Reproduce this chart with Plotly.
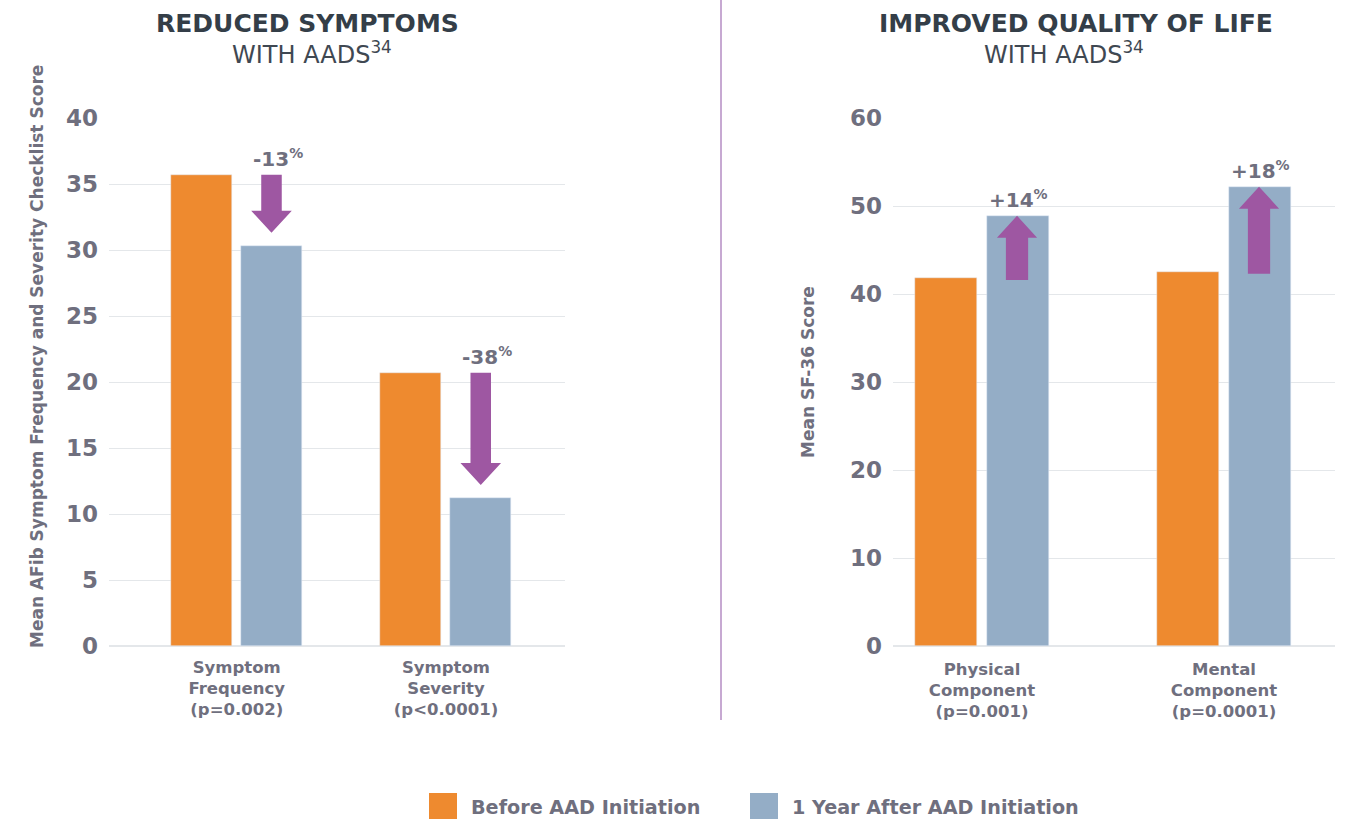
import plotly.graph_objects as go

# ---------------- data ----------------
categories_left = ["Symptom<br>Frequency<br>(p=0.002)", "Symptom<br>Severity<br>(p&lt;0.0001)"]
before_left = [35.7, 20.7]
after_left = [30.3, 11.2]
change_left = ["-13", "-38"]

categories_right = ["Physical<br>Component<br>(p=0.001)", "Mental<br>Component<br>(p=0.0001)"]
before_right = [41.8, 42.5]
after_right = [48.9, 52.2]
change_right = ["+14", "+18"]

series_names = ["Before AAD Initiation", "1 Year After AAD Initiation"]
yticks_left = [0, 5, 10, 15, 20, 25, 30, 35, 40]
yticks_right = [0, 10, 20, 30, 40, 50, 60]

# ---------------- style ----------------
W, H = 1357, 819
ORANGE = "#EE8A2F"
BLUE = "#94ADC6"
PURPLE = "#9E57A2"
GRAY = "#6F6F7E"
DARK = "#343E48"
GRID = "#E4E7EA"
FONT = "DejaVu Sans"


def px(x):
    return x / W


def py(y):
    return 1 - y / H


fig = go.Figure()

xl = list(range(len(categories_left)))
xr = list(range(len(categories_right)))

fig.add_trace(go.Bar(x=xl, y=before_left, width=0.2915, offset=-0.314, marker_color=ORANGE,
                     name=series_names[0], showlegend=False, xaxis="x", yaxis="y", hoverinfo="y"))
fig.add_trace(go.Bar(x=xl, y=after_left, width=0.2915, offset=0.0203, marker_color=BLUE,
                     name=series_names[1], showlegend=False, xaxis="x", yaxis="y", hoverinfo="y"))
fig.add_trace(go.Bar(x=xr, y=before_right, width=0.256, offset=-0.277, marker_color=ORANGE,
                     name=series_names[0], showlegend=False, xaxis="x2", yaxis="y2", hoverinfo="y"))
fig.add_trace(go.Bar(x=xr, y=after_right, width=0.256, offset=0.0207, marker_color=BLUE,
                     name=series_names[1], showlegend=False, xaxis="x2", yaxis="y2", hoverinfo="y"))

shapes = []
annotations = []


def arrow_path(xc, y_from, y_to, sw, hw, hl):
    s = 1 if y_to > y_from else -1
    yb = y_to - s * hl
    return (f"M {xc-sw} {y_from} L {xc-sw} {yb} L {xc-hw} {yb} L {xc} {y_to} "
            f"L {xc+hw} {yb} L {xc+sw} {yb} L {xc+sw} {y_from} Z")


LABEL_FONT = dict(family=FONT, size=20, color=GRAY)

for i in xl:
    xc = i + 0.0203 + 0.2915 / 2
    shapes.append(dict(type="path", xref="x", yref="y",
                       path=arrow_path(xc, before_left[i], after_left[i] + 1.0, 0.049, 0.097, 1.67),
                       fillcolor=PURPLE, line=dict(width=0)))
    annotations.append(dict(xref="x", yref="y", x=xc + 0.03, y=max(before_left[i], after_left[i]),
                            yanchor="bottom", xanchor="center", yshift=2, showarrow=False,
                            text=f"<b>{change_left[i]}<sup>%</sup></b>", font=LABEL_FONT))

for i in xr:
    xc = i + 0.0207 + 0.256 / 2 - 0.004
    shapes.append(dict(type="path", xref="x2", yref="y2",
                       path=arrow_path(xc, before_right[i] - 0.2, after_right[i], 0.046, 0.083, 2.5),
                       fillcolor=PURPLE, line=dict(width=0)))
    annotations.append(dict(xref="x2", yref="y2", x=xc + 0.005, y=max(before_right[i], after_right[i]),
                            yanchor="bottom", xanchor="center", yshift=2, showarrow=False,
                            text=f"<b>{change_right[i]}<sup>%</sup></b>", font=LABEL_FONT))

# divider line
shapes.append(dict(type="line", xref="paper", yref="paper", x0=px(721), x1=px(721), y0=py(0), y1=py(720),
                   line=dict(color="#B58CC3", width=1.5)))

annotations += [
    dict(xref="paper", yref="paper", x=px(307), y=py(23), text="<b>REDUCED SYMPTOMS</b>", showarrow=False,
         font=dict(family=FONT, size=25, color=DARK), xanchor="center", yanchor="middle"),
    dict(xref="paper", yref="paper", x=px(312), y=py(53), text="WITH AADS<sup>34</sup>", showarrow=False,
         font=dict(family=FONT, size=24, color="#3F4852"), xanchor="center", yanchor="middle"),
    dict(xref="paper", yref="paper", x=px(1076), y=py(23), text="<b>IMPROVED QUALITY OF LIFE</b>", showarrow=False,
         font=dict(family=FONT, size=25, color=DARK), xanchor="center", yanchor="middle"),
    dict(xref="paper", yref="paper", x=px(1064), y=py(53), text="WITH AADS<sup>34</sup>", showarrow=False,
         font=dict(family=FONT, size=24, color="#3F4852"), xanchor="center", yanchor="middle"),
    dict(xref="paper", yref="paper", x=px(37), y=py(357), textangle=-90,
         text="<b>Mean AFib Symptom Frequency and Severity Checklist Score</b>", showarrow=False,
         font=dict(family=FONT, size=17, color=GRAY), xanchor="center", yanchor="middle"),
    dict(xref="paper", yref="paper", x=px(808), y=py(372), textangle=-90,
         text="<b>Mean SF-36 Score</b>", showarrow=False,
         font=dict(family=FONT, size=17, color=GRAY), xanchor="center", yanchor="middle"),
]

legend_items = [(429, ORANGE, series_names[0]), (750, BLUE, series_names[1])]
for x0, col, name in legend_items:
    shapes.append(dict(type="rect", xref="paper", yref="paper", x0=px(x0), x1=px(x0 + 28),
                       y0=py(793), y1=py(819), fillcolor=col, line=dict(width=0)))
    annotations.append(dict(xref="paper", yref="paper", x=px(x0 + 40), y=py(807), text=f"<b>{name}</b>",
                            showarrow=False, xanchor="left", yanchor="middle",
                            font=dict(family=FONT, size=19.2, color=GRAY)))

ydom = [py(646), py(118)]
tickfont_y = dict(family=FONT, size=23, color=GRAY, weight="bold")
tickfont_x = dict(family=FONT, size=16.5, color=GRAY, weight="bold")

fig.update_layout(
    width=W, height=H, margin=dict(l=0, r=0, t=0, b=0, pad=0, autoexpand=False),
    paper_bgcolor="white", plot_bgcolor="white",
    showlegend=False, bargap=0,
    xaxis=dict(domain=[px(109), px(565)], range=[-0.6105, 1.5687], tickvals=xl, ticktext=categories_left,
               showgrid=False, zeroline=False, showline=False, ticks="", tickfont=tickfont_x,
               ticklabelstandoff=9, anchor="y", automargin=False, fixedrange=True),
    yaxis=dict(domain=ydom, range=[0, 40], tickvals=yticks_left, showgrid=True, gridcolor=GRID, gridwidth=1,
               zeroline=True, zerolinecolor=GRID, zerolinewidth=1.5, showline=False, ticks="",
               tickfont=tickfont_y, ticklabelstandoff=10, anchor="x", automargin=False, fixedrange=True),
    xaxis2=dict(domain=[px(893), px(1335)], range=[-0.3678, 1.4587], tickvals=xr, ticktext=categories_right,
                showgrid=False, zeroline=False, showline=False, ticks="", tickfont=tickfont_x,
                ticklabelstandoff=11, anchor="y2", automargin=False, fixedrange=True),
    yaxis2=dict(domain=ydom, range=[0, 60], tickvals=yticks_right, showgrid=True, gridcolor=GRID, gridwidth=1,
                zeroline=True, zerolinecolor=GRID, zerolinewidth=1.5, showline=False, ticks="",
                tickfont=tickfont_y, ticklabelstandoff=10, anchor="x2", automargin=False, fixedrange=True),
    shapes=shapes,
    annotations=annotations,
)

fig.write_html("out.html")
